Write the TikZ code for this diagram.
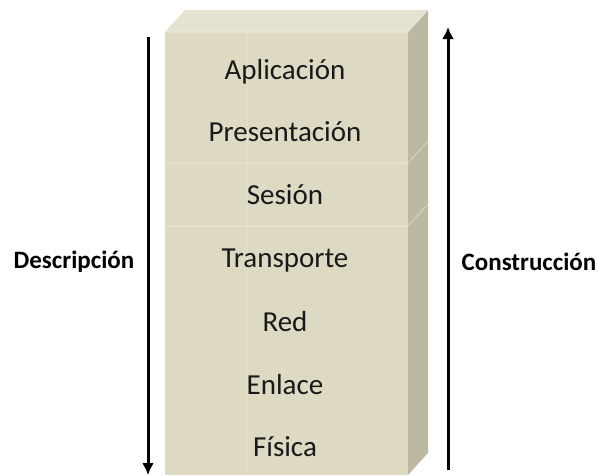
\documentclass[tikz,border=0pt]{standalone}
\usepackage{fontspec}
\setmainfont{Carlito}
\usetikzlibrary{arrows.meta}
\definecolor{frente}{HTML}{DDD9C3}
\definecolor{tapa}{HTML}{E5E2D2}
\definecolor{lado}{HTML}{BCB8A1}
\begin{document}
\begin{tikzpicture}[x=1pt, y=-1pt,
    capa/.style={font=\fontsize{29}{32}\selectfont, text=black!90, anchor=center},
    etiqueta/.style={font=\fontsize{25}{28}\selectfont\bfseries, anchor=center},
    flecha/.style={line width=3pt, -{Latex[length=12pt, width=12pt]}}]
        \useasboundingbox (0,0) rectangle (598,475);

        % Caja 3D: cara frontal, tapa y lateral
        \fill[frente] (165,32) rectangle (408,475);
        \fill[tapa] (165,32) -- (185,10) -- (428,10) -- (408,32) -- cycle;
        \fill[lado] (408,32) -- (428,10) -- (428,453) -- (408,475) -- cycle;

        % Separaciones tenues entre bloques
        \draw[white, opacity=0.45, line width=0.8pt] (165,163) -- (408,163) -- (428,141);
        \draw[white, opacity=0.45, line width=0.8pt] (165,226) -- (408,226) -- (428,204);
        \draw[white, opacity=0.18, line width=0.6pt] (247,32) -- (247,475);
        \draw[white, opacity=0.5, line width=0.6pt] (165,32) -- (408,32) -- (428,10);

        % Capas del modelo
        \node[capa] (aplicacion) at (285,72) {Aplicación};
        \node[capa] (presentacion) at (285,132) {Presentación};
        \node[capa] (sesion) at (285,195) {Sesión};
        \node[capa] (transporte) at (285,261) {Transporte};
        \node[capa] (red) at (285,322) {Red};
        \node[capa] (enlace) at (285,385) {Enlace};
        \node[capa] (fisica) at (285,447) {Física};

        % Flecha izquierda (Descripción) - hacia abajo
        \coordinate (desc-ini) at (148,37);
        \coordinate (desc-fin) at (148,475);
        \draw[flecha] (desc-ini) -- (desc-fin);
        \node[etiqueta] (descripcion) at (74,262) {Descripción};

        % Flecha derecha (Construcción) - hacia arriba
        \coordinate (cons-ini) at (448,470);
        \coordinate (cons-fin) at (448,27);
        \draw[flecha] (cons-ini) -- (cons-fin);
        \node[etiqueta] (construccion) at (529,262) {Construcción};
    \end{tikzpicture}
\end{document}
